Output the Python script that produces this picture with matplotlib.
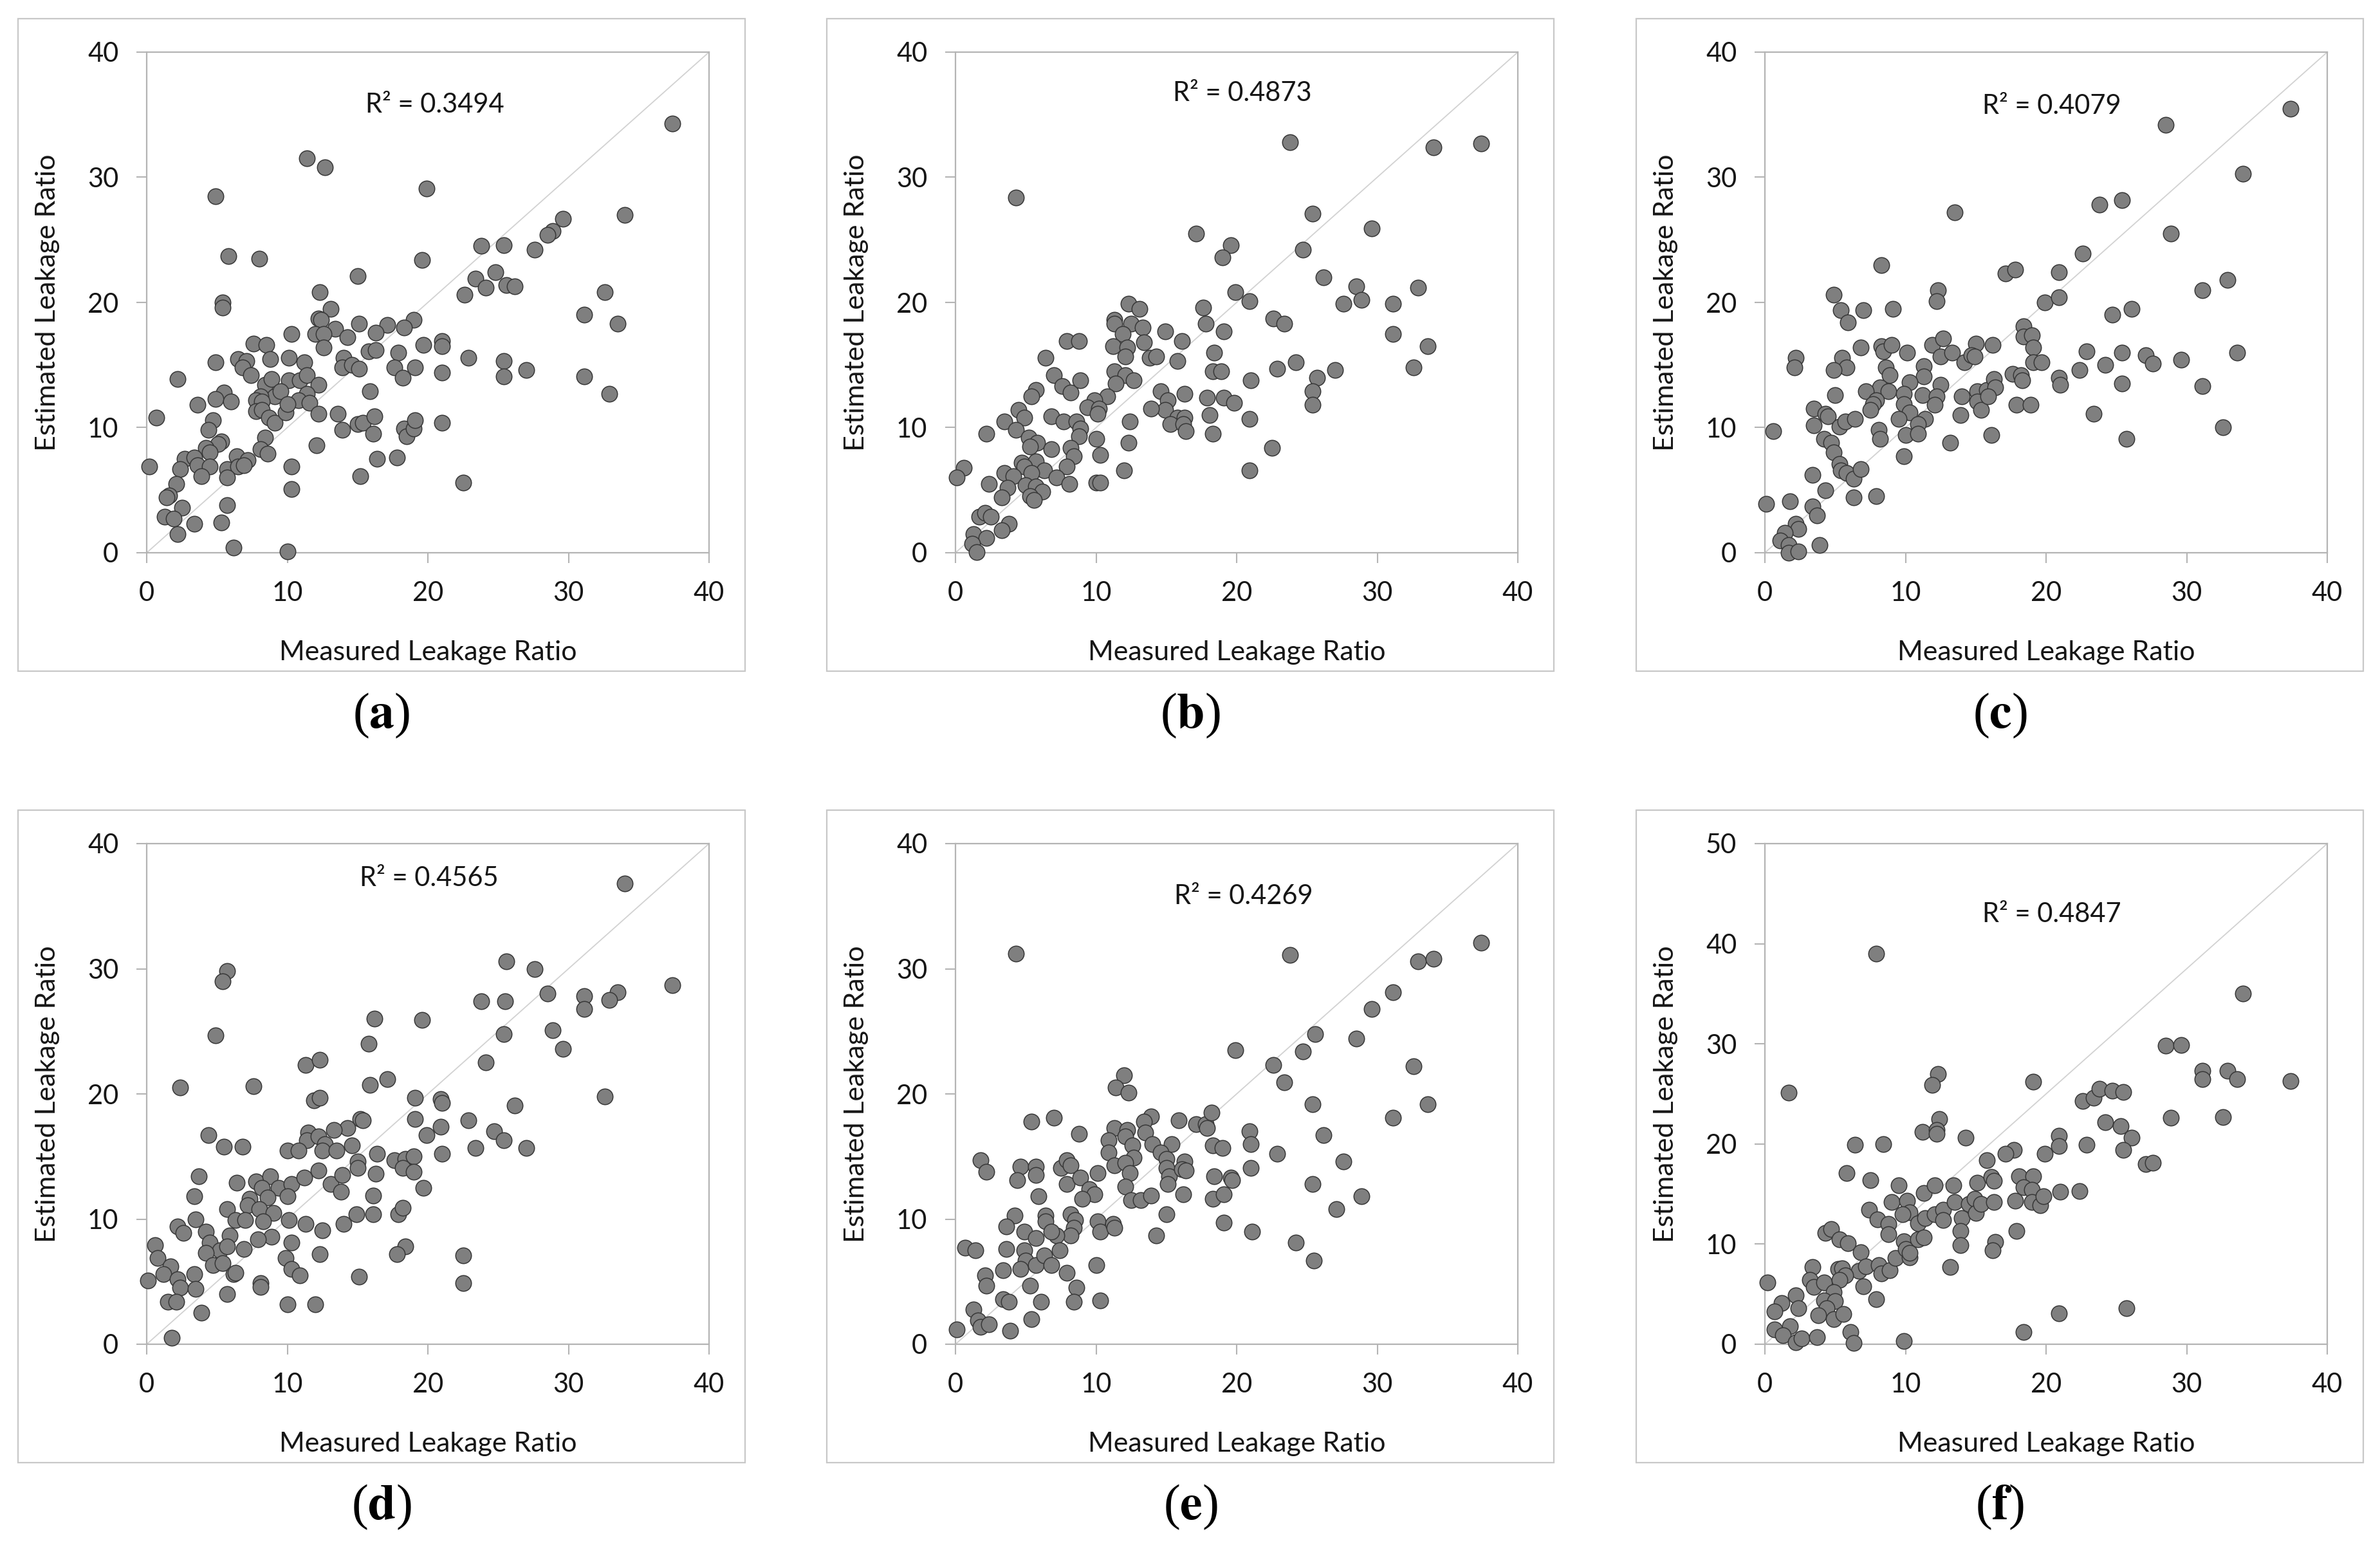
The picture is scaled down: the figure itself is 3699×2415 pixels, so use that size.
import matplotlib.pyplot as plt
from matplotlib.patches import Rectangle

plt.rcParams['font.family'] = ['Lato', 'DejaVu Sans']
plt.rcParams['mathtext.fontset'] = 'stix'

# ---- data (measured, estimated) ----
xa = [37.4, 11.4, 12.7, 19.9, 4.9, 34.0, 29.6, 28.9, 28.5, 23.8,
      25.4, 27.6, 5.8, 8.0, 19.6, 15.0, 24.8, 23.4, 24.1, 25.6,
      26.2, 22.6, 32.6, 12.3, 5.4, 5.4, 13.1, 31.1, 33.5, 12.2,
      12.4, 15.1, 17.1, 19.0, 18.3, 13.4, 16.3, 10.3, 12.0, 12.6,
      14.3, 7.6, 8.5, 12.6, 15.8, 16.3, 17.9, 19.7, 21.0, 21.0,
      22.9, 4.9, 6.5, 7.1, 8.8, 10.1, 11.2, 14.0, 6.8, 7.4,
      13.9, 14.6, 15.1, 17.6, 19.1, 18.2, 21.0, 25.4, 25.4, 27.0,
      31.1, 32.9, 2.2, 8.4, 8.9, 10.1, 10.9, 11.4, 12.2, 11.4,
      10.8, 11.6, 9.1, 9.5, 8.1, 7.8, 8.2, 5.5, 4.9, 6.0,
      3.6, 0.7, 7.8, 8.2, 8.7, 9.1, 9.9, 10.0, 15.9, 12.2,
      13.6, 13.9, 15.0, 15.4, 16.2, 16.1, 18.3, 18.5, 19.0, 19.1,
      21.0, 4.7, 4.4, 5.3, 5.1, 4.2, 4.5, 8.4, 8.1, 8.6,
      12.1, 2.7, 3.4, 3.6, 4.5, 2.4, 3.9, 0.2, 5.7, 6.4,
      6.5, 7.2, 6.9, 5.7, 10.3, 16.4, 17.8, 2.1, 1.6, 1.4,
      10.3, 15.2, 22.5, 2.5, 5.7, 1.3, 1.9, 3.4, 5.3, 2.2,
      6.2, 10.0]
ya = [34.3, 31.5, 30.8, 29.1, 28.5, 27.0, 26.7, 25.7, 25.4, 24.5,
      24.6, 24.2, 23.7, 23.5, 23.4, 22.1, 22.4, 21.9, 21.2, 21.4,
      21.3, 20.6, 20.8, 20.8, 20.0, 19.6, 19.5, 19.0, 18.3, 18.7,
      18.6, 18.3, 18.2, 18.6, 18.0, 17.9, 17.6, 17.5, 17.5, 17.5,
      17.2, 16.7, 16.6, 16.4, 16.1, 16.2, 16.0, 16.6, 16.9, 16.5,
      15.6, 15.2, 15.5, 15.3, 15.5, 15.6, 15.2, 15.6, 14.8, 14.2,
      14.8, 15.0, 14.7, 14.8, 14.8, 14.0, 14.4, 15.3, 14.1, 14.6,
      14.1, 12.7, 13.9, 13.4, 13.9, 13.8, 13.8, 14.2, 13.4, 12.7,
      12.2, 12.0, 12.5, 12.9, 12.5, 12.2, 12.1, 12.8, 12.3, 12.1,
      11.8, 10.8, 11.3, 11.4, 10.8, 10.4, 11.2, 11.9, 12.9, 11.1,
      11.1, 9.8, 10.3, 10.4, 10.9, 9.5, 9.9, 9.3, 9.9, 10.6,
      10.4, 10.6, 9.8, 8.9, 8.7, 8.4, 8.0, 9.2, 8.3, 7.9,
      8.6, 7.5, 7.6, 7.0, 6.9, 6.7, 6.1, 6.9, 6.7, 7.7,
      6.9, 7.4, 7.0, 6.0, 6.9, 7.5, 7.6, 5.5, 4.6, 4.4,
      5.1, 6.1, 5.6, 3.6, 3.8, 2.9, 2.7, 2.3, 2.4, 1.5,
      0.4, 0.1]

xb = [23.8, 34.0, 37.4, 4.3, 25.4, 29.6, 17.1, 19.6, 19.0, 24.7,
      26.2, 28.5, 32.9, 28.9, 27.6, 31.1, 19.9, 20.9, 17.6, 12.3,
      13.1, 17.8, 19.1, 22.6, 23.4, 31.1, 33.6, 11.3, 11.3, 12.5,
      13.3, 11.9, 14.9, 16.1, 13.4, 11.2, 12.2, 12.1, 7.9, 8.8,
      6.4, 13.8, 14.3, 15.8, 18.4, 18.3, 18.9, 22.9, 24.2, 27.0,
      32.6, 25.7, 25.4, 25.4, 21.0, 7.0, 7.6, 8.2, 8.9, 11.3,
      12.1, 12.7, 11.4, 5.7, 5.4, 10.8, 9.9, 9.4, 10.2, 10.1,
      14.6, 15.1, 14.9, 16.3, 13.9, 17.9, 19.1, 19.8, 18.1, 20.9,
      15.8, 16.3, 15.3, 16.2, 16.4, 18.3, 12.4, 12.3, 22.5, 20.9,
      12.0, 4.5, 4.9, 3.5, 4.3, 6.8, 7.7, 8.6, 8.9, 8.8,
      2.2, 5.2, 5.8, 5.3, 6.8, 8.2, 8.4, 10.0, 10.3, 7.9,
      4.7, 5.7, 6.3, 4.9, 3.5, 4.1, 7.2, 5.4, 0.6, 0.1,
      2.4, 5.0, 5.7, 6.2, 8.1, 10.0, 10.3, 3.7, 3.3, 5.3,
      5.6, 1.7, 2.1, 2.5, 3.8, 3.3, 1.3, 2.2, 1.2, 1.5]
yb = [32.8, 32.4, 32.7, 28.4, 27.1, 25.9, 25.5, 24.6, 23.6, 24.2,
      22.0, 21.3, 21.2, 20.2, 19.9, 19.9, 20.8, 20.1, 19.6, 19.9,
      19.5, 18.3, 17.7, 18.7, 18.3, 17.5, 16.5, 18.6, 18.3, 18.3,
      18.0, 17.5, 17.7, 16.9, 16.8, 16.5, 16.4, 15.7, 16.9, 16.9,
      15.6, 15.6, 15.7, 15.3, 16.0, 14.5, 14.5, 14.7, 15.2, 14.6,
      14.8, 14.0, 12.9, 11.8, 13.8, 14.2, 13.3, 12.8, 13.8, 14.5,
      14.2, 13.8, 13.5, 13.0, 12.5, 12.5, 12.2, 11.6, 11.5, 11.1,
      12.9, 12.2, 11.4, 12.7, 11.5, 12.4, 12.4, 12.0, 11.0, 10.7,
      10.8, 10.8, 10.3, 10.3, 9.7, 9.5, 10.5, 8.8, 8.4, 6.6,
      6.6, 11.4, 10.8, 10.5, 9.8, 10.9, 10.5, 10.5, 9.9, 9.3,
      9.5, 9.2, 8.8, 8.5, 8.3, 8.4, 7.7, 9.1, 7.8, 6.9,
      7.2, 7.3, 6.6, 6.9, 6.4, 6.1, 6.0, 6.4, 6.8, 6.0,
      5.5, 5.4, 5.3, 4.9, 5.5, 5.6, 5.6, 5.2, 4.4, 4.5,
      4.2, 2.9, 3.2, 2.9, 2.3, 1.8, 1.5, 1.2, 0.7, 0.05]

xc = [37.4, 28.5, 34.0, 23.8, 25.4, 13.5, 28.9, 22.6, 8.3, 17.1,
      17.8, 20.9, 32.9, 31.1, 4.9, 12.3, 12.2, 19.9, 20.9, 5.4,
      7.0, 9.1, 5.9, 24.7, 26.1, 18.4, 18.4, 19.0, 19.1, 19.1,
      19.7, 2.2, 2.1, 6.8, 8.3, 8.4, 9.0, 10.1, 5.5, 5.8,
      4.9, 11.9, 12.7, 12.5, 13.3, 14.2, 15.0, 14.7, 14.9, 16.2,
      22.9, 25.4, 27.1, 27.6, 29.6, 33.6, 22.4, 24.2, 8.6, 8.9,
      11.3, 11.3, 10.3, 12.5, 8.2, 8.8, 7.2, 5.0, 9.9, 11.2,
      12.2, 12.1, 14.0, 15.1, 15.8, 16.3, 16.4, 15.1, 15.4, 15.9,
      17.6, 18.2, 18.3, 20.9, 21.0, 25.4, 31.1, 7.9, 7.7, 7.5,
      9.9, 10.3, 9.5, 3.5, 4.3, 4.5, 3.5, 5.3, 5.7, 6.4,
      11.4, 10.9, 13.9, 17.9, 18.9, 23.4, 8.1, 8.2, 10.0, 10.9,
      0.6, 4.2, 4.7, 4.9, 5.3, 5.4, 5.8, 6.3, 6.8, 9.9,
      13.2, 16.1, 25.7, 32.6, 3.4, 4.3, 6.3, 7.9, 0.1, 1.8,
      3.4, 3.7, 2.2, 2.4, 1.4, 1.1, 1.7, 1.7, 2.4, 3.9]
yc = [35.5, 34.2, 30.3, 27.8, 28.2, 27.2, 25.5, 23.9, 23.0, 22.3,
      22.6, 22.4, 21.8, 21.0, 20.6, 21.0, 20.1, 20.0, 20.4, 19.4,
      19.4, 19.5, 18.4, 19.0, 19.5, 18.1, 17.3, 17.4, 16.4, 15.2,
      15.2, 15.6, 14.8, 16.4, 16.5, 16.1, 16.6, 16.0, 15.6, 14.8,
      14.6, 16.6, 17.1, 15.7, 16.0, 15.2, 16.7, 15.8, 15.7, 16.6,
      16.1, 16.0, 15.8, 15.1, 15.4, 16.0, 14.6, 15.0, 14.8, 14.2,
      14.9, 14.1, 13.6, 13.4, 13.2, 12.9, 12.9, 12.6, 12.7, 12.6,
      12.5, 11.8, 12.5, 12.9, 13.0, 13.9, 13.2, 12.1, 11.4, 12.5,
      14.3, 14.2, 13.8, 14.0, 13.4, 13.5, 13.3, 12.2, 11.9, 11.4,
      11.9, 11.2, 10.7, 11.5, 11.1, 10.9, 10.2, 10.1, 10.5, 10.7,
      10.7, 10.3, 11.0, 11.8, 11.8, 11.1, 9.8, 9.1, 9.4, 9.5,
      9.7, 9.1, 8.8, 8.0, 7.1, 6.6, 6.4, 5.9, 6.7, 7.7,
      8.8, 9.4, 9.1, 10.0, 6.2, 5.0, 4.4, 4.5, 3.9, 4.1,
      3.7, 3.0, 2.3, 1.9, 1.6, 1.0, 0.6, 0.0, 0.1, 0.6]

xd = [34.0, 25.6, 27.6, 5.7, 5.4, 37.4, 28.5, 31.1, 33.5, 32.9,
      23.8, 25.5, 31.1, 16.2, 19.6, 28.9, 25.4, 4.9, 15.8, 29.6,
      11.3, 12.3, 24.1, 2.4, 7.6, 15.9, 17.1, 11.9, 12.3, 19.1,
      20.9, 21.0, 26.2, 32.6, 15.2, 15.4, 19.1, 22.9, 20.9, 14.3,
      13.3, 11.5, 11.4, 12.2, 12.7, 12.5, 13.5, 14.6, 4.4, 5.5,
      6.8, 10.0, 10.8, 19.9, 24.7, 25.4, 23.4, 27.0, 16.4, 15.0,
      15.0, 17.6, 18.4, 19.0, 18.2, 19.0, 21.0, 16.3, 3.7, 6.4,
      7.8, 8.8, 8.2, 9.4, 10.3, 11.2, 12.2, 13.1, 13.9, 13.8,
      10.0, 8.6, 7.3, 7.2, 3.4, 5.7, 8.0, 9.0, 8.3, 16.1,
      19.7, 14.9, 16.1, 17.9, 18.2, 3.5, 6.3, 7.0, 10.1, 11.3,
      14.0, 12.5, 2.2, 2.6, 4.2, 5.9, 8.9, 7.9, 0.6, 0.8,
      4.5, 5.2, 5.7, 4.2, 6.9, 10.3, 9.9, 10.3, 10.9, 12.3,
      18.4, 17.8, 22.5, 22.5, 15.1, 1.7, 1.2, 2.2, 2.4, 3.4,
      3.5, 4.7, 5.4, 6.2, 6.3, 0.1, 8.1, 8.1, 5.7, 1.5,
      2.1, 3.9, 10.0, 12.0, 1.8]
yd = [36.8, 30.6, 30.0, 29.8, 29.0, 28.7, 28.0, 27.8, 28.1, 27.5,
      27.4, 27.4, 26.8, 26.0, 25.9, 25.1, 24.8, 24.7, 24.0, 23.6,
      22.3, 22.7, 22.5, 20.5, 20.6, 20.7, 21.2, 19.5, 19.7, 19.7,
      19.6, 19.3, 19.1, 19.8, 18.0, 17.9, 18.0, 17.9, 17.4, 17.3,
      17.1, 16.9, 16.3, 16.6, 16.0, 15.5, 15.5, 15.9, 16.7, 15.8,
      15.8, 15.5, 15.5, 16.7, 17.0, 16.3, 15.7, 15.7, 15.2, 14.6,
      14.1, 14.7, 14.8, 15.0, 14.1, 13.8, 15.2, 13.6, 13.4, 12.9,
      13.0, 13.4, 12.5, 12.5, 12.8, 13.3, 13.9, 12.8, 13.5, 12.2,
      11.8, 11.7, 11.6, 11.1, 11.8, 10.8, 10.8, 10.5, 9.8, 11.9,
      12.5, 10.4, 10.4, 10.4, 10.9, 10.0, 9.9, 9.9, 9.9, 9.6,
      9.6, 9.1, 9.4, 8.9, 9.0, 8.7, 8.6, 8.4, 7.9, 6.9,
      8.1, 7.5, 7.8, 7.3, 7.6, 8.1, 6.9, 6.0, 5.5, 7.2,
      7.8, 7.2, 7.1, 4.9, 5.4, 6.2, 5.6, 5.2, 4.5, 5.6,
      4.4, 6.3, 6.5, 5.6, 5.7, 5.1, 4.9, 4.6, 4.0, 3.4,
      3.4, 2.5, 3.2, 3.2, 0.5]

xe = [4.3, 23.8, 37.4, 32.9, 34.0, 31.1, 29.6, 25.6, 28.5, 24.7,
      19.9, 22.6, 23.4, 32.6, 12.0, 11.4, 12.3, 25.4, 33.6, 31.1,
      5.4, 7.0, 13.9, 13.4, 15.9, 17.1, 17.8, 17.9, 18.2, 11.3,
      12.2, 13.5, 8.8, 20.9, 21.0, 26.2, 10.9, 12.1, 12.6, 14.0,
      15.4, 18.3, 19.0, 22.9, 10.9, 12.7, 14.6, 15.0, 16.3, 11.3,
      12.1, 12.4, 15.0, 15.2, 16.1, 16.4, 27.6, 21.0, 18.4, 19.6,
      19.7, 1.8, 2.2, 4.6, 5.7, 5.7, 4.4, 7.5, 7.9, 8.2,
      7.9, 8.9, 10.1, 9.5, 9.9, 9.0, 5.9, 12.1, 12.5, 13.2,
      13.9, 15.1, 16.2, 18.3, 19.1, 25.4, 28.9, 27.1, 15.0, 19.1,
      21.1, 24.2, 25.5, 4.2, 6.4, 6.4, 8.2, 8.5, 8.4, 8.2,
      10.1, 10.3, 11.2, 11.3, 14.3, 3.6, 4.9, 5.7, 7.2, 6.8,
      0.7, 1.4, 3.6, 4.9, 5.0, 4.6, 5.7, 6.3, 6.8, 7.4,
      3.4, 7.9, 10.0, 2.1, 2.2, 5.3, 8.6, 3.4, 3.8, 6.1,
      8.4, 10.3, 1.3, 1.6, 1.8, 2.4, 5.4, 3.9, 0.1]
ye = [31.2, 31.1, 32.1, 30.6, 30.8, 28.1, 26.8, 24.8, 24.4, 23.4,
      23.5, 22.3, 20.9, 22.2, 21.5, 20.5, 20.1, 19.2, 19.2, 18.1,
      17.8, 18.1, 18.2, 17.8, 17.9, 17.6, 17.6, 17.3, 18.5, 17.3,
      17.1, 16.9, 16.8, 17.0, 16.0, 16.7, 16.3, 16.6, 15.9, 16.0,
      16.0, 15.9, 15.7, 15.2, 15.3, 14.9, 15.3, 14.8, 14.6, 14.3,
      14.5, 13.7, 14.1, 13.4, 14.0, 13.9, 14.6, 14.1, 13.4, 13.3,
      13.1, 14.7, 13.8, 14.2, 14.2, 13.5, 13.1, 14.1, 14.7, 14.3,
      12.8, 13.3, 13.7, 12.4, 12.0, 11.6, 11.8, 12.6, 11.5, 11.5,
      11.9, 12.8, 12.0, 11.6, 12.0, 12.8, 11.8, 10.8, 10.4, 9.7,
      9.0, 8.1, 6.7, 10.3, 10.3, 9.8, 10.4, 9.9, 9.3, 8.7,
      9.8, 9.0, 9.6, 9.3, 8.7, 9.4, 9.0, 8.5, 8.7, 9.0,
      7.7, 7.5, 7.6, 7.5, 6.7, 6.0, 6.3, 7.1, 6.3, 7.5,
      5.9, 5.7, 6.3, 5.5, 4.7, 4.7, 4.5, 3.6, 3.4, 3.4,
      3.4, 3.5, 2.8, 1.9, 1.4, 1.6, 2.0, 1.1, 1.2]

xf = [7.9, 34.0, 28.5, 29.6, 31.1, 31.1, 32.9, 33.6, 37.4, 1.7,
      19.1, 12.3, 11.9, 22.6, 23.4, 23.8, 24.7, 25.5, 28.9, 32.6,
      12.4, 11.2, 12.2, 12.2, 14.3, 24.2, 25.3, 26.1, 25.5, 20.9,
      20.9, 22.9, 6.4, 8.4, 17.7, 17.1, 19.9, 15.8, 27.1, 27.6,
      5.8, 7.5, 9.5, 11.3, 12.1, 13.4, 15.1, 16.1, 16.3, 18.1,
      19.1, 18.4, 19.0, 21.0, 22.4, 9.0, 10.1, 10.3, 9.8, 7.4,
      8.0, 8.8, 8.8, 10.9, 11.4, 12.1, 12.7, 12.7, 13.5, 14.0,
      14.5, 14.9, 15.0, 15.4, 16.3, 17.8, 19.0, 19.6, 19.8, 13.9,
      13.9, 16.4, 16.2, 17.9, 4.3, 4.7, 5.3, 5.9, 6.8, 6.7,
      7.2, 8.1, 8.3, 8.9, 9.3, 9.9, 10.0, 10.3, 10.3, 10.9,
      11.3, 13.2, 3.4, 3.2, 3.5, 4.2, 5.2, 5.5, 5.7, 5.3,
      7.0, 7.9, 4.9, 4.2, 5.0, 4.4, 3.8, 4.9, 5.6, 2.2,
      1.2, 0.7, 2.4, 0.2, 0.7, 1.8, 1.3, 2.2, 2.6, 3.7,
      6.1, 6.3, 9.9, 18.4, 20.9, 25.7]
yf = [39.0, 35.0, 29.8, 29.9, 27.3, 26.5, 27.3, 26.5, 26.3, 25.1,
      26.2, 27.0, 25.9, 24.3, 24.6, 25.5, 25.3, 25.2, 22.6, 22.7,
      22.5, 21.2, 21.4, 21.0, 20.6, 22.2, 21.8, 20.6, 19.4, 20.8,
      19.8, 19.9, 19.9, 20.0, 19.4, 19.0, 19.0, 18.4, 18.0, 18.1,
      17.1, 16.4, 15.9, 15.1, 15.9, 15.9, 16.1, 16.7, 16.3, 16.8,
      16.8, 15.7, 15.4, 15.2, 15.3, 14.2, 14.3, 13.2, 13.0, 13.4,
      12.5, 12.0, 11.0, 12.1, 12.6, 13.0, 13.4, 12.4, 14.2, 12.6,
      14.0, 14.5, 13.1, 14.0, 14.2, 14.3, 14.2, 13.9, 14.8, 11.3,
      9.9, 10.2, 9.4, 11.3, 11.1, 11.5, 10.5, 10.1, 9.2, 7.3,
      7.8, 7.9, 7.1, 7.4, 8.6, 10.3, 9.5, 8.7, 9.1, 10.5,
      10.7, 7.7, 7.7, 6.4, 5.7, 6.2, 7.5, 7.6, 6.9, 6.4,
      5.8, 4.5, 5.2, 4.4, 4.3, 3.6, 2.9, 2.5, 3.0, 4.9,
      4.1, 3.3, 3.6, 6.2, 1.5, 1.8, 0.9, 0.2, 0.6, 0.7,
      1.2, 0.1, 0.3, 1.2, 3.1, 3.6]

r2_text = ['R² = 0.3494', 'R² = 0.4873', 'R² = 0.4079',
           'R² = 0.4565', 'R² = 0.4269', 'R² = 0.4847']
r2_pos = [(20.5, 35.8), (20.4, 36.7), (20.4, 35.7),
          (20.1, 37.2), (20.5, 35.8), (20.4, 42.9)]
letters = ['a', 'b', 'c', 'd', 'e', 'f']
ymax = [40, 40, 40, 40, 40, 50]
xs = [xa, xb, xc, xd, xe, xf]
ys = [ya, yb, yc, yd, ye, yf]

W, H = 3699, 2415
fig = plt.figure(figsize=(W / 100, H / 100), dpi=100)

# pixel layout of the plot areas
ax_left = [228, 1485, 2743]
ax_top = [81, 1311]
aw, ah = 874, 778

axis_col = '#b4b4b4'
txt_col = '#161616'
for i in range(6):
    r, c = divmod(i, 3)
    l, t = ax_left[c], ax_top[r]
    ax = fig.add_axes([l / W, 1 - (t + ah) / H, aw / W, ah / H])

    # light box round every sub-figure
    fig.add_artist(Rectangle(((l - 200) / W, 1 - (t + ah + 184) / H),
                             (aw + 256) / W, (ah + 236) / H,
                             transform=fig.transFigure, fill=False,
                             ec='#c8c8c8', lw=1.6))

    ax.plot([0, 40], [0, ymax[i]], color='#d2d2d2', lw=1.3, zorder=1)
    ax.scatter(xs[i], ys[i], s=310, c='#7f7f7f', edgecolors='#383838',
               linewidths=1.1, zorder=3, clip_on=False)

    ax.set_xlim(0, 40)
    ax.set_ylim(0, ymax[i])
    ax.set_xticks(range(0, 41, 10))
    ax.set_yticks(range(0, ymax[i] + 1, 10))
    for s in ax.spines.values():
        s.set_color(axis_col)
        s.set_linewidth(1.6)
    ax.tick_params(length=11.5, width=1.5, color=axis_col, pad=20,
                   labelsize=30, labelcolor=txt_col)

    ax.set_xlabel('Measured Leakage Ratio', fontsize=31, color=txt_col)
    ax.set_ylabel('Estimated Leakage Ratio', fontsize=31, color=txt_col)
    ax.xaxis.set_label_coords(0.5, -0.175)
    ax.yaxis.set_label_coords(-0.155, 0.5)

    ax.text(r2_pos[i][0], r2_pos[i][1], r2_text[i], fontsize=30,
            color=txt_col, ha='center', va='center')

    fig.text((l + 365) / W, 1 - (t + 1031) / H,
             '($\\mathbf{' + letters[i] + '}$)', fontsize=56,
             family='Liberation Serif', ha='center', va='center')

fig.savefig('out.png', dpi=100)
